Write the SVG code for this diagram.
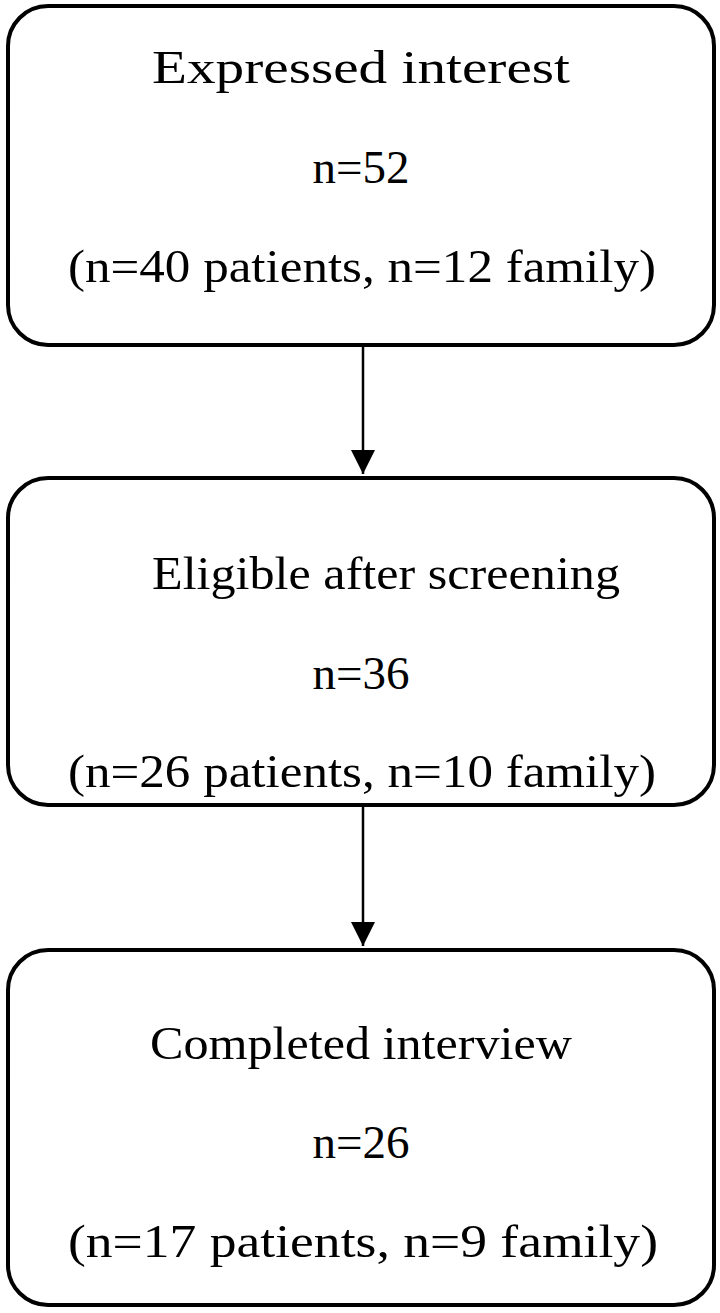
<svg xmlns="http://www.w3.org/2000/svg" width="720" height="1313" viewBox="0 0 720 1313">
<style>
.box{fill:#fff;stroke:#000;stroke-width:4}
text{font-family:"Liberation Serif",serif;font-size:47px;text-anchor:middle;fill:#000}
.c{stroke:#000;stroke-width:2.5;fill:none}
</style>
<defs><marker id="a" viewBox="0 0 20 20" refX="20" refY="10" markerWidth="24" markerHeight="24" markerUnits="userSpaceOnUse" orient="auto"><path d="M0,0L20,10L0,20z"/></marker></defs>
<rect width="720" height="1313" fill="#fff"/>
<g id="n1"><rect class="box" x="8" y="6" width="706" height="339" rx="40"/>
<text x="361" y="83" textLength="418" lengthAdjust="spacingAndGlyphs">Expressed interest</text><text x="361" y="183" textLength="97" lengthAdjust="spacingAndGlyphs">n=52</text><text x="362" y="282" textLength="588" lengthAdjust="spacingAndGlyphs">(n=40 patients, n=12 family)</text></g>
<g id="n2"><rect class="box" x="8" y="478" width="706" height="327" rx="40"/>
<text x="386" y="589" textLength="468" lengthAdjust="spacingAndGlyphs">Eligible after screening</text><text x="361" y="689" textLength="97" lengthAdjust="spacingAndGlyphs">n=36</text><text x="362" y="787" textLength="588" lengthAdjust="spacingAndGlyphs">(n=26 patients, n=10 family)</text></g>
<g id="n3"><rect class="box" x="8" y="950" width="706" height="355" rx="40"/>
<text x="361" y="1059" textLength="422" lengthAdjust="spacingAndGlyphs">Completed interview</text><text x="361" y="1158" textLength="97" lengthAdjust="spacingAndGlyphs">n=26</text><text x="363" y="1257" textLength="590" lengthAdjust="spacingAndGlyphs">(n=17 patients, n=9 family)</text></g>
<g id="connectors">
<line class="c" x1="363" y1="345" x2="363" y2="474" marker-end="url(#a)"/>
<line class="c" x1="363" y1="805" x2="363" y2="946" marker-end="url(#a)"/>
</g>
</svg>
